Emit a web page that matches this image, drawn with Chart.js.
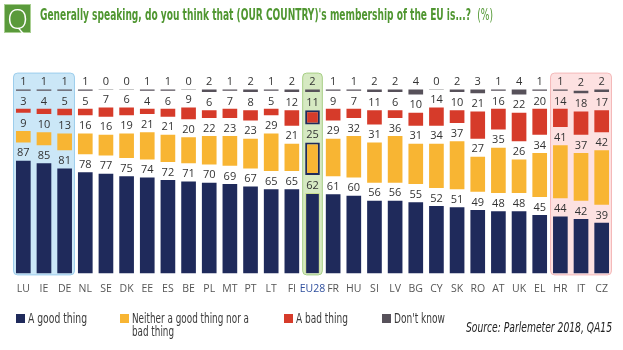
<!DOCTYPE html>
<html>
<head>
<meta charset="utf-8">
<script src="https://cdn.jsdelivr.net/npm/chart.js@4.4.0/dist/chart.umd.min.js"></script>
<style>
html,body{margin:0;padding:0;background:#fff;}
body{width:623px;height:350px;position:relative;overflow:hidden;font-family:'Open Sans','Noto Sans',sans-serif;}
#chartWrap{position:absolute;left:0;top:0;width:623px;height:350px;}
#q{position:absolute;left:4px;top:4px;width:25px;height:27px;background:#5a9a3b;border:1px solid #a9cf92;color:#fff;font:300 27px/27px 'Open Sans',sans-serif;text-align:center;}
#title{position:absolute;left:40px;top:5px;white-space:nowrap;transform-origin:0 0;color:#4f9630;font:bold 16px 'Liberation Sans Narrow','DejaVu Sans Condensed','DejaVu Sans',sans-serif;font-stretch:condensed;}
#title .pc{font-weight:normal;}
.sw{position:absolute;width:9px;height:9px;}
.lt{position:absolute;color:#3a3a3a;font:14px/14px 'Liberation Sans Narrow','DejaVu Sans Condensed',sans-serif;font-stretch:condensed;white-space:nowrap;transform-origin:0 0;}
#source{position:absolute;top:320px;white-space:nowrap;transform-origin:100% 0;right:11px;color:#222;font:italic 14px/15px 'Liberation Sans Narrow','DejaVu Sans Condensed',sans-serif;font-stretch:condensed;}
</style>
</head>
<body>
<div id="chartWrap"><canvas id="c" width="623" height="350"></canvas></div>
<div id="q">Q</div>
<div id="title"><span id="tt">Generally speaking, do you think that (OUR COUNTRY)'s membership of the EU is...?&nbsp;&nbsp;<span class="pc">(%)</span></span></div>
<div id="legend"></div>
<div id="source">Source: Parlemeter 2018, QA15</div>
<script>
// ---- data ----
const categories = ['LU','IE','DE','NL','SE','DK','EE','ES','BE','PL','MT','PT','LT','FI','EU28','FR','HU','SI','LV','BG','CY','SK','RO','AT','UK','EL','HR','IT','CZ'];
const goodThing    = [87,85,81,78,77,75,74,72,71,70,69,67,65,65,62,61,60,56,56,55,52,51,49,48,48,45,44,42,39];
const neitherThing = [ 9,10,13,16,16,19,21,21,20,22,23,23,29,21,25,29,32,31,36,31,34,37,27,35,26,34,41,37,42];
const badThing     = [ 3, 4, 5, 5, 7, 6, 4, 6, 9, 6, 7, 8, 5,12,11, 9, 7,11, 6,10,14,10,21,16,22,20,14,18,17];
const dontKnow     = [ 1, 1, 1, 1, 0, 0, 1, 1, 0, 2, 1, 2, 1, 2, 2, 1, 1, 2, 2, 4, 0, 2, 3, 1, 4, 1, 1, 2, 2];
const seriesNames  = ['A good thing','Neither a good thing nor a bad thing','A bad thing',"Don't know"];
const legendLines  = [['A good thing'], ['Neither a good thing nor a', 'bad thing'], ['A bad thing'], ["Don't know"]];

// ---- styles ----
const C_GOOD = '#1f2a5b', C_NEITHER = '#f8b533', C_BAD = '#d63b2a', C_DK = '#57515a', C_ZERO = '#c6c6c6';
const EU_IDX = categories.indexOf('EU28');
const GAP = 14;          // vertical spacer between segments (in % units)
const BOX_TOP = 155;     // top of highlight boxes (in % units)
const groups = [
  {from: 0,  to: 2,  fill: '#cbe7f7', stroke: '#9ccdec'},
  {from: EU_IDX, to: EU_IDX, fill: '#d6e9c2', stroke: '#a7cf86'},
  {from: 26, to: 28, fill: '#fde1e1', stroke: '#f4b9b9'}
];

const boxesPlugin = {
  id: 'boxes',
  beforeDatasetsDraw(chart) {
    const {ctx, scales: {x, y}} = chart;
    const half = (x.getPixelForValue(1) - x.getPixelForValue(0)) / 2;
    ctx.save();
    groups.forEach(g => {
      const l = x.getPixelForValue(g.from) - half + 0.5;
      const r = x.getPixelForValue(g.to) + half - 0.5;
      const t = y.getPixelForValue(BOX_TOP) + 0.5;
      const b = y.getPixelForValue(0) + 1.5;
      ctx.beginPath();
      ctx.roundRect(l, t, r - l, b - t, 4);
      ctx.fillStyle = g.fill; ctx.fill();
      ctx.strokeStyle = g.stroke; ctx.lineWidth = 1; ctx.stroke();
    });
    ctx.restore();
  }
};

const labelsPlugin = {
  id: 'valueLabels',
  afterDatasetsDraw(chart) {
    const {ctx} = chart;
    ctx.save();
    ctx.font = '11px "Open Sans", sans-serif';
    ctx.fillStyle = '#333';
    ctx.textAlign = 'center';
    ctx.textBaseline = 'middle';
    chart.data.datasets.forEach((ds, di) => {
      if (ds.isSpacer) return;
      const meta = chart.getDatasetMeta(di);
      meta.data.forEach((el, i) => {
        ctx.fillText(String(ds.data[i]), el.x, el.y - 7.5);
      });
    });
    ctx.restore();
  }
};

const spacerDs = () => ({data: categories.map(() => GAP), backgroundColor: 'rgba(0,0,0,0)', isSpacer: true, borderWidth: 0});

new Chart(document.getElementById('c'), {
  type: 'bar',
  data: {
    labels: categories,
    datasets: [
      {label: seriesNames[0], data: goodThing, backgroundColor: C_GOOD,
       borderColor: ctx => ctx.dataIndex === EU_IDX ? '#c9dc8c' : C_GOOD,
       borderWidth: ctx => ctx.dataIndex === EU_IDX ? 1 : 0, borderSkipped: 'bottom'},
      spacerDs(),
      {label: seriesNames[1], data: neitherThing, backgroundColor: C_NEITHER,
       borderColor: C_GOOD, borderWidth: ctx => ctx.dataIndex === EU_IDX ? 2 : 0, borderSkipped: false},
      spacerDs(),
      {label: seriesNames[2], data: badThing, backgroundColor: C_BAD,
       borderColor: C_GOOD, borderWidth: ctx => ctx.dataIndex === EU_IDX ? 2 : 0, borderSkipped: false},
      spacerDs(),
      {label: seriesNames[3], data: dontKnow,
       backgroundColor: ctx => dontKnow[ctx.dataIndex] === 0 ? C_ZERO : C_DK,
       minBarLength: 1, borderWidth: 0}
    ]
  },
  options: {
    responsive: false,
    animation: false,
    layout: {padding: {left: 13, right: 11, top: 70, bottom: 46}},
    datasets: {bar: {barPercentage: 0.71, categoryPercentage: 1}},
    plugins: {legend: {display: false}, tooltip: {enabled: false}, title: {display: false}},
    scales: {
      x: {
        stacked: true,
        grid: {display: false, drawTicks: false},
        border: {display: false},
        ticks: {
          padding: 9, autoSkip: false, maxRotation: 0,
          font: {family: '"Open Sans", sans-serif', size: 10.5},
          color: ctx => ctx.index === EU_IDX ? '#2f4f9e' : '#555'
        }
      },
      y: {stacked: true, display: false, min: 0, max: 157}
    }
  },
  plugins: [boxesPlugin, labelsPlugin]
});

// ---- fit helper ----
function fitWidth(el, target) {
  const w = el.getBoundingClientRect().width;
  if (w > 0) el.style.transform = 'scaleX(' + (target / w) + ')';
}

// ---- legend (HTML) ----
const legendColors = [C_GOOD, C_NEITHER, C_BAD, C_DK];
const legendX = [16, 120, 284, 382];
const legendW = [[59], [117, 42], [52], [51]];
const legend = document.getElementById('legend');
legendLines.forEach((lines, i) => {
  const sw = document.createElement('div');
  sw.className = 'sw';
  sw.style.left = legendX[i] + 'px'; sw.style.top = '314px';
  sw.style.background = legendColors[i];
  legend.appendChild(sw);
  lines.forEach((txt, j) => {
    const t = document.createElement('div');
    t.className = 'lt';
    t.style.left = (legendX[i] + 12) + 'px';
    t.style.top = (311 + j * 13) + 'px';
    t.textContent = txt;
    legend.appendChild(t);
    fitWidth(t, legendW[i][j]);
  });
});

fitWidth(document.getElementById('title'), 453);
fitWidth(document.getElementById('source'), 146);
</script>
</body>
</html>
